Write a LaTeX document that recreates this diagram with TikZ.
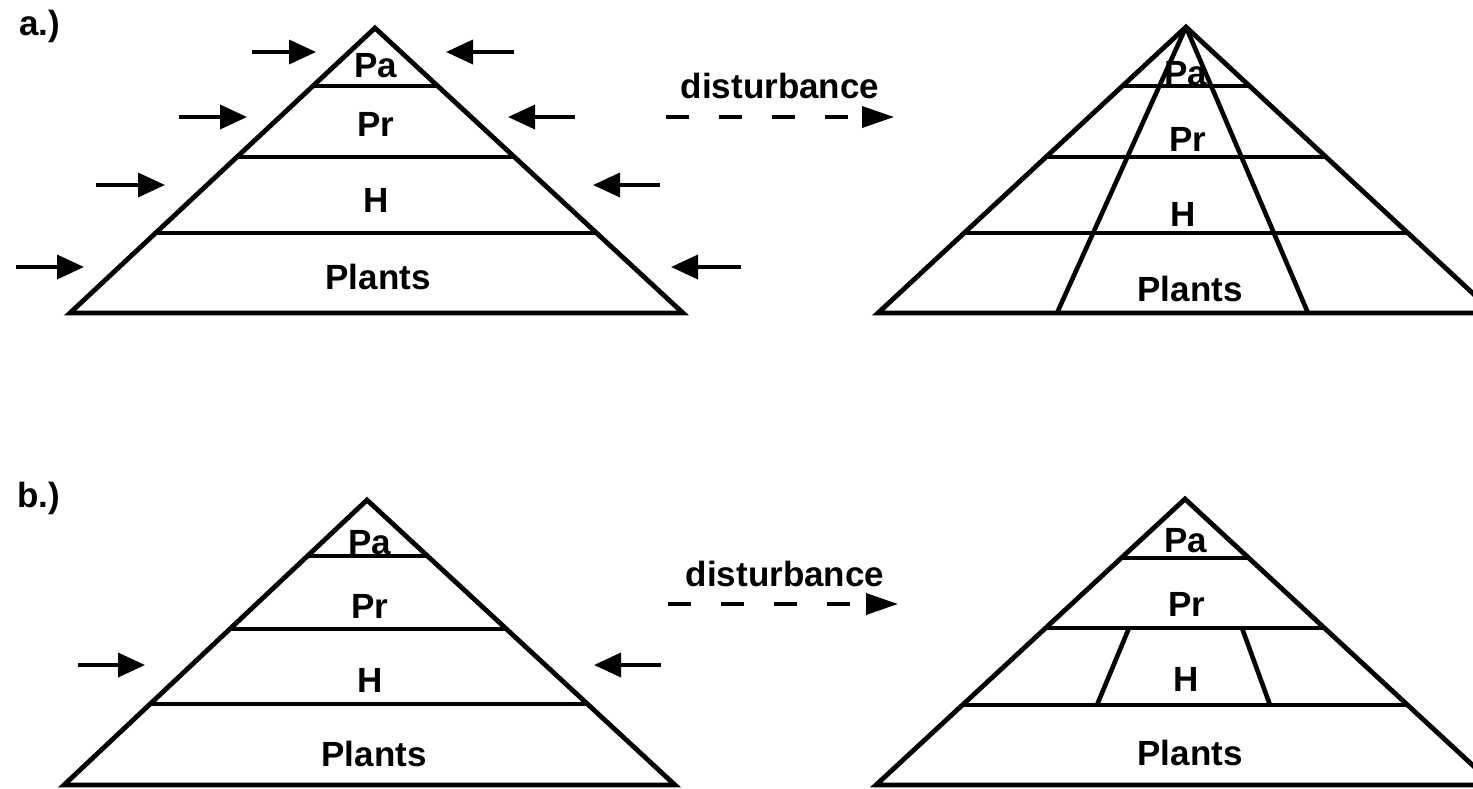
\documentclass[tikz,border=0pt]{standalone}
\usepackage{fontspec}
\setmainfont{Liberation Sans}
\usetikzlibrary{arrows.meta,calc}
\begin{document}
\begin{tikzpicture}[x=1pt,y=-1pt,
  outline/.style={line width=4.8pt,line join=miter},
  layer/.style={line width=3.2pt},
  inner/.style={line width=4.6pt},
  lbl/.style={font=\bfseries\fontsize{35}{40}\selectfont,inner sep=0pt},
  tag/.style={font=\bfseries\fontsize{35}{40}\selectfont,inner sep=0pt,anchor=base west},
  push/.style={line width=3.6pt,-{Triangle[length=27pt,width=24pt]}},
  dist/.style={line width=3.6pt,dash pattern=on 23pt off 30pt,-{Triangle[length=32pt,width=21pt]}},
]
\useasboundingbox (0,0) rectangle (1473,788);
\fill[white] (0,0) rectangle (1473,788);

% ---------- a.) left pyramid ----------
\coordinate (aA) at (375,28);
\coordinate (aL) at (70,313);
\coordinate (aR) at (683,313);
\draw[outline] (aA) -- (aL) -- (aR) -- cycle;
\foreach \t in {0.2035,0.4526,0.7193}
  \draw[layer] ($(aA)!\t!(aL)$) -- ($(aA)!\t!(aR)$);
\node[lbl] (aPa) at (376,66) {Pa};
\node[lbl] (aPr) at (376,124) {Pr};
\node[lbl] (aH) at (376,200) {H};
\node[lbl] (aPl) at (378,277) {Plants};

% inward arrows
\coordinate (l1s) at (252,52);  \coordinate (l1e) at (316,52);
\coordinate (l2s) at (179,117); \coordinate (l2e) at (247,117);
\coordinate (l3s) at (96,185);  \coordinate (l3e) at (165,185);
\coordinate (l4s) at (16,267);  \coordinate (l4e) at (84,267);
\coordinate (r1s) at (514,52);  \coordinate (r1e) at (446,52);
\coordinate (r2s) at (575,117); \coordinate (r2e) at (508,117);
\coordinate (r3s) at (660,185); \coordinate (r3e) at (593,185);
\coordinate (r4s) at (741,267); \coordinate (r4e) at (671,267);
\foreach \p in {l1,l2,l3,l4,r1,r2,r3,r4}
  \draw[push] (\p s) -- (\p e);

\node[tag] (alab) at (19,35) {a.)};

% disturbance a
\node[lbl] (da) at (780,86) {disturbance};
\coordinate (das) at (666,117);
\coordinate (dae) at (894,117);
\draw[dist] (das) -- (dae);

% ---------- a.) right pyramid ----------
\coordinate (bA) at (1186,27);
\coordinate (bL) at (878,313);
\coordinate (bR) at (1494,313);
\draw[outline] (bA) -- (bL) -- (bR) -- cycle;
\foreach \t in {0.2063,0.4545,0.7203}
  \draw[layer] ($(bA)!\t!(bL)$) -- ($(bA)!\t!(bR)$);
\coordinate (bi1) at (1057,313);
\coordinate (bi2) at (1308,313);
\draw[inner] (bA) -- (bi1);
\draw[inner] (bA) -- (bi2);
\node[lbl] (bPa) at (1186,74) {Pa};
\node[lbl] (bPr) at (1188,139) {Pr};
\node[lbl] (bH) at (1183,214) {H};
\node[lbl] (bPl) at (1190,289) {Plants};

% ---------- b.) left pyramid ----------
\coordinate (cA) at (367,500);
\coordinate (cL) at (64,785);
\coordinate (cR) at (675,785);
\draw[outline] (cA) -- (cL) -- (cR) -- cycle;
\foreach \t in {0.1965,0.4526,0.7158}
  \draw[layer] ($(cA)!\t!(cL)$) -- ($(cA)!\t!(cR)$);
\node[lbl] (cPa) at (370,543) {Pa};
\node[lbl] (cPr) at (370,606) {Pr};
\node[lbl] (cH) at (370,680) {H};
\node[lbl] (cPl) at (374,754) {Plants};

\coordinate (cls) at (78,665); \coordinate (cle) at (145,665);
\coordinate (crs) at (661,665); \coordinate (cre) at (594,665);
\draw[push] (cls) -- (cle);
\draw[push] (crs) -- (cre);

\node[tag] (blab) at (17,507) {b.)};

% disturbance b
\node[lbl] (db) at (785,574) {disturbance};
\coordinate (dbs) at (668,604);
\coordinate (dbe) at (898,604);
\draw[dist] (dbs) -- (dbe);

% ---------- b.) right pyramid ----------
\coordinate (dA) at (1185,499);
\coordinate (dL) at (876,785);
\coordinate (dR) at (1494,785);
\draw[outline] (dA) -- (dL) -- (dR) -- cycle;
\foreach \t in {0.2063,0.4510,0.7203}
  \draw[layer] ($(dA)!\t!(dL)$) -- ($(dA)!\t!(dR)$);
\coordinate (di1t) at (1129,628); \coordinate (di1b) at (1097,705);
\coordinate (di2t) at (1242,628); \coordinate (di2b) at (1270,705);
\draw[inner] (di1t) -- (di1b);
\draw[inner] (di2t) -- (di2b);
\node[lbl] (dPa) at (1186,541) {Pa};
\node[lbl] (dPr) at (1187,604) {Pr};
\node[lbl] (dH) at (1186,679) {H};
\node[lbl] (dPl) at (1190,753) {Plants};
\end{tikzpicture}
\end{document}
